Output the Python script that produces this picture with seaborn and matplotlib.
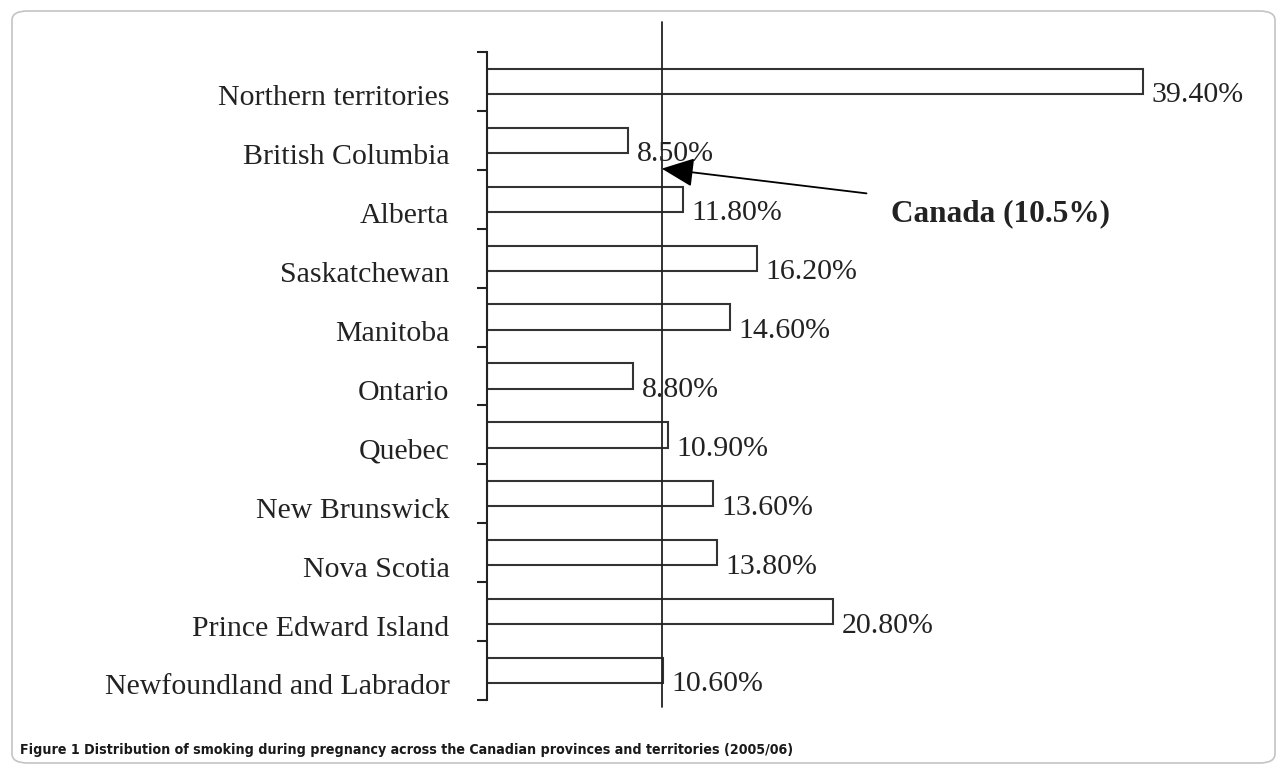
import pandas as pd
import seaborn as sns
import matplotlib.pyplot as plt
import matplotlib.transforms as mtransforms
from matplotlib.patches import FancyBboxPatch
import numpy as np

regions = [
    "Northern territories",
    "British Columbia",
    "Alberta",
    "Saskatchewan",
    "Manitoba",
    "Ontario",
    "Quebec",
    "New Brunswick",
    "Nova Scotia",
    "Prince Edward Island",
    "Newfoundland and Labrador",
]
smoking_pct = [39.4, 8.5, 11.8, 16.2, 14.6, 8.8, 10.9, 13.6, 13.8, 20.8, 10.6]
canada_pct = 10.5

df = pd.DataFrame({"region": regions, "pct": smoking_pct})

sns.set_style("white")
plt.rcParams["font.family"] = ["Liberation Serif", "DejaVu Serif"]

fig = plt.figure(figsize=(12.8, 7.75), dpi=100)
ax = fig.add_axes([487 / 1280, 1 - 700 / 775, 749 / 1280, 648 / 775])

sns.barplot(
    data=df,
    x="pct",
    y="region",
    orient="h",
    color="white",
    edgecolor="#333333",
    linewidth=1.5,
    width=0.43,
    ax=ax,
)
for p in ax.patches:
    p.set_facecolor("white")

ax.set_xlim(0, 45)
ax.set_ylim(len(regions) - 0.5, -0.5)
ax.set_xlabel("")
ax.set_ylabel("")
ax.set_xticks([])

for s in ["top", "right", "bottom"]:
    ax.spines[s].set_visible(False)
ax.spines["left"].set_color("#222222")
ax.spines["left"].set_linewidth(1.5)

# category labels sit a little below bar centres; ticks mark boundaries
fs = 21.5
ax.set_yticks(range(len(regions)))
ax.set_yticklabels(regions, fontsize=fs, color="#222222")
ax.tick_params(axis="y", which="major", left=True, length=0, pad=27)
ax.set_yticks(np.arange(-0.5, len(regions)), minor=True)
ax.tick_params(axis="y", which="minor", left=True, length=7, width=1.5,
               color="#222222", direction="out")
shift = mtransforms.ScaledTranslation(0, -10 / 72, fig.dpi_scale_trans)
for lab in ax.get_yticklabels():
    lab.set_transform(lab.get_transform() + shift)

# value labels
for i, v in enumerate(smoking_pct):
    ax.annotate(f"{v:.2f}%", xy=(v, i), xytext=(6, -10),
                textcoords="offset points", ha="left", va="center",
                fontsize=fs, color="#222222")

# Canada reference line
ax.axvline(canada_pct, ymin=-0.011, ymax=1.046, color="#222222",
           linewidth=1.3, clip_on=False)
ax.annotate("", xy=(canada_pct, 1.48), xytext=(22.8, 1.9),
            arrowprops=dict(arrowstyle="-|>,head_length=1.0,head_width=0.45",
                            mutation_scale=20, color="black", linewidth=1.3,
                            shrinkA=0, shrinkB=0))
ax.text(24.3, 2.24, "Canada (10.5%)", fontsize=22.5, fontweight="bold",
        ha="left", va="center", color="#222222")

# caption and frame
fig.text(20 / 1280, 1 - 750 / 775,
         "Figure 1 Distribution of smoking during pregnancy across the Canadian provinces and territories (2005/06)",
         fontsize=10.2, fontweight="bold", fontstretch="condensed",
         ha="left", va="center", family=["DejaVu Sans"], color="#1a1a1a")
frame = FancyBboxPatch((12 / 1280, 12 / 775), 1263 / 1280, 752 / 775,
                       boxstyle="round,pad=0,rounding_size=0.012",
                       transform=fig.transFigure, facecolor="none",
                       edgecolor="#c4c4c4", linewidth=1.2)
fig.patches.append(frame)

fig.savefig("out.png", dpi=100)
